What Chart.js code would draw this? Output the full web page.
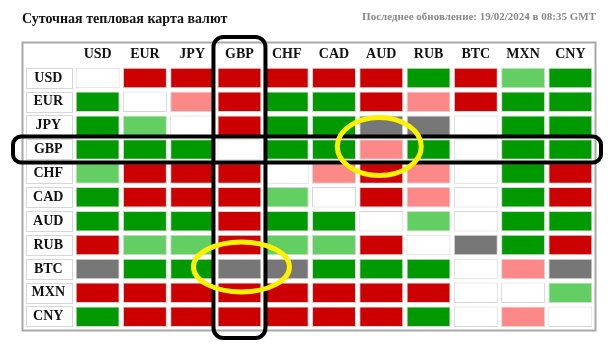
<!DOCTYPE html>
<html>
<head>
<meta charset="utf-8">
<script src="https://cdn.jsdelivr.net/npm/chart.js@4"></script>
<style>
  html, body { margin: 0; padding: 0; background: #fff; }
  #wrap { width: 612px; height: 346px; }
</style>
</head>
<body>
<div id="wrap"><canvas id="heatmap"></canvas></div>
<script>
// currencies (columns and rows)
const currencies = ['USD', 'EUR', 'JPY', 'GBP', 'CHF', 'CAD', 'AUD', 'RUB', 'BTC', 'MXN', 'CNY'];

// 2 = strong up, 1 = up, 0 = neutral, -1 = down, -2 = strong down, 9 = no data
const rowUSD = [ 0, -2, -2, -2, -2, -2, -2,  2, -2,  1,  2];
const rowEUR = [ 2,  0, -1, -2,  2,  2, -2, -1, -2,  2,  2];
const rowJPY = [ 2,  1,  0, -2,  2,  2,  9,  9,  0,  2,  2];
const rowGBP = [ 2,  2,  2,  0,  2,  2, -1,  2,  0,  2,  2];
const rowCHF = [ 1, -2, -2, -2,  0, -1, -2, -1,  0,  2, -2];
const rowCAD = [ 2, -2, -2, -2,  1,  0, -2, -1,  0,  2, -2];
const rowAUD = [ 2,  2,  2, -2,  2,  2,  0,  1,  0,  2,  2];
const rowRUB = [-2,  1,  1, -2,  1,  1, -2,  0,  9,  2, -2];
const rowBTC = [ 9,  2,  2,  9,  9,  2,  2,  2,  0, -1,  9];
const rowMXN = [-2, -2, -2, -2, -2, -2, -2, -2,  0,  0,  1];
const rowCNY = [ 2, -2, -2, -2, -2, -2, -2,  2,  0, -1,  0];

const rows = [rowUSD, rowEUR, rowJPY, rowGBP, rowCHF, rowCAD, rowAUD, rowRUB, rowBTC, rowMXN, rowCNY];

const palette = {
  '2': '#009900',
  '1': '#63cf63',
  '0': '#ffffff',
  '-1': '#fd8888',
  '-2': '#cc0000',
  '9': '#777777'
};

const serif = "'Liberation Serif', 'Times New Roman', serif";
const gap = 0.07;

const datasets = rows.map((vals, i) => ({
  label: currencies[i],
  data: vals.map(() => [i + gap, i + 1 - gap]),
  backgroundColor: vals.map(v => palette[v]),
  borderColor: '#d6d6d6',
  borderWidth: 1,
  borderSkipped: false,
  grouped: false,
  barPercentage: 0.93,
  categoryPercentage: 1
}));

// frame, row label boxes, header texts
const tableDeco = {
  id: 'tableDeco',
  beforeDraw(chart) {
    const ctx = chart.ctx;
    const y = chart.scales.y;
    const left = chart.chartArea.left;
    ctx.save();
    ctx.strokeStyle = '#a8a8a8';
    ctx.lineWidth = 2;
    ctx.strokeRect(22.5, 42.5, 573, 288);
    ctx.strokeStyle = '#d6d6d6';
    ctx.lineWidth = 1;
    rows.forEach((r, i) => {
      const t = y.getPixelForValue(i + gap);
      const b = y.getPixelForValue(i + 1 - gap);
      ctx.strokeRect(26.5, Math.round(t) + 0.5, left - 28, Math.round(b - t) - 1);
    });
    ctx.fillStyle = '#111';
    ctx.font = 'bold 14px ' + serif;
    ctx.textBaseline = 'middle';
    ctx.textAlign = 'left';
    ctx.fillText('Суточная тепловая карта валют', 22, 19);
    ctx.fillStyle = '#888';
    ctx.font = 'bold 11px ' + serif;
    ctx.textAlign = 'right';
    ctx.fillText('Последнее обновление: 19/02/2024 в 08:35 GMT', 596, 17);
    ctx.restore();
  },
  afterDraw(chart) {
    // hand-drawn highlights around GBP
    const ctx = chart.ctx;
    const x = chart.scales.x;
    const y = chart.scales.y;
    const g = currencies.indexOf('GBP');
    const cx = x.getPixelForValue(g);
    ctx.save();
    ctx.strokeStyle = '#000';
    ctx.lineWidth = 4;
    ctx.beginPath();
    ctx.roundRect(cx - 26, 37, 52, 301, 10);
    ctx.stroke();
    ctx.beginPath();
    ctx.roundRect(13, y.getPixelForValue(g) - 1, 588, y.getPixelForValue(g + 1) - y.getPixelForValue(g) + 2, 8);
    ctx.stroke();
    ctx.strokeStyle = '#fff200';
    ctx.lineWidth = 5;
    const aud = currencies.indexOf('AUD');
    const btc = currencies.indexOf('BTC');
    ctx.beginPath();
    ctx.ellipse(x.getPixelForValue(aud) - 2, y.getPixelForValue(g + 0.5) - 3, 42, 29, 0, 0, Math.PI * 2);
    ctx.stroke();
    ctx.beginPath();
    ctx.ellipse(cx + 2, y.getPixelForValue(btc + 0.5) - 2, 48, 25, 0, 0, Math.PI * 2);
    ctx.stroke();
    ctx.restore();
  }
};

const ctx = document.getElementById('heatmap').getContext('2d');
const heatmap = new Chart(ctx, {
  type: 'bar',
  data: {
    labels: currencies,
    datasets: datasets
  },
  options: {
    responsive: true,
    maintainAspectRatio: false,
    animation: false,
    layout: { padding: { left: 0, top: 0, right: 18, bottom: 17 } },
    plugins: {
      legend: { display: false },
      tooltip: { enabled: false },
      title: { display: false }
    },
    scales: {
      x: {
        type: 'category',
        position: 'top',
        grid: { display: false, drawTicks: false },
        border: { display: false },
        ticks: {
          color: '#111',
          font: { family: serif, size: 14, weight: 'bold' },
          padding: 3,
          maxRotation: 0,
          autoSkip: false
        },
        afterFit(scale) { scale.height = 66; }
      },
      y: {
        type: 'linear',
        min: 0,
        max: 11,
        reverse: true,
        grid: { display: false, drawTicks: false },
        border: { display: false },
        afterBuildTicks(scale) {
          scale.ticks = currencies.map((c, i) => ({ value: i + 0.5 }));
        },
        ticks: {
          color: '#111',
          font: { family: serif, size: 14, weight: 'bold' },
          crossAlign: 'center',
          padding: 9,
          autoSkip: false,
          callback: (v) => currencies[Math.floor(v)]
        },
        afterFit(scale) { scale.width = 74; }
      }
    }
  },
  plugins: [tableDeco]
});
</script>
</body>
</html>
